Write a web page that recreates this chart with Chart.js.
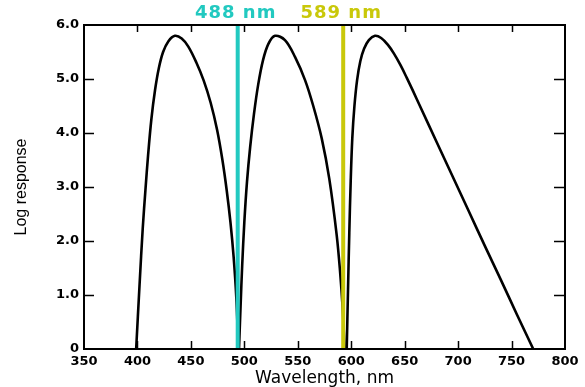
<!DOCTYPE html>
<html>
<head>
<meta charset="utf-8">
<script src="https://cdn.jsdelivr.net/npm/chart.js@4.4.0/dist/chart.umd.min.js"></script>
<style>
  html, body { margin: 0; padding: 0; background: #fff; }
  canvas { display: block; }
</style>
</head>
<body>
<canvas id="responseChart" width="585" height="387"></canvas>
<script>
// wavelength (nm) and log response
const curve1Wl = [398.8, 402, 405, 407.5, 410, 413, 416.5, 420, 424, 429, 435, 441.4, 447.6, 455, 462, 468.5, 474.5, 479.5, 483.5, 487, 490, 492.5, 494.4];
const curve1Log = [0, 1.2, 2.25, 2.95, 3.6, 4.25, 4.8, 5.2, 5.5, 5.7, 5.8, 5.75, 5.6, 5.31, 4.97, 4.56, 4.06, 3.5, 2.94, 2.35, 1.7, 0.95, 0];

const curve2Wl = [495, 496.5, 498, 500, 502.5, 505.5, 509, 513, 517.5, 522.5, 528.7, 538, 547.4, 556.8, 564.5, 572.4, 579.5, 586.4, 589.5, 592, 593.8];
const curve2Log = [0, 0.8, 1.55, 2.35, 3.1, 3.75, 4.35, 4.9, 5.35, 5.65, 5.8, 5.72, 5.41, 4.98, 4.5, 3.9, 3.15, 2.11, 1.45, 0.75, 0];

const curve3Wl = [595.8, 597, 598.2, 599.5, 601, 603, 605.5, 608.5, 612, 616.5, 622.2, 628, 634, 640, 646, 652, 658, 664.3, 680, 695, 710, 725, 740, 755, 770.3];
const curve3Log = [0, 1.1, 2.15, 3.1, 3.9, 4.5, 4.98, 5.33, 5.56, 5.72, 5.8, 5.76, 5.64, 5.47, 5.26, 5.02, 4.77, 4.5, 3.83, 3.19, 2.55, 1.91, 1.28, 0.64, 0];

// laser lines (drawn where they sit in the figure)
const markerWl = [493.8, 592.5];
const markerNames = ['488 nm', '589 nm'];
const markerColors = ['#22c9c0', '#c9c80a'];

const xTicks = [350, 400, 450, 500, 550, 600, 650, 700, 750, 800];
const yTicks = [0, 1, 2, 3, 4, 5, 6];

function toPoints(xs, ys) {
    return xs.map((v, i) => ({ x: v, y: ys[i] }));
}

function curveSet(xs, ys) {
    return {
        data: toPoints(xs, ys),
        borderColor: '#000',
        borderWidth: 2.6,
        pointRadius: 0,
        tension: 0.35,
        fill: false,
        order: 1,
    };
}

const markerSets = markerWl.map((w, i) => ({
    data: [{ x: w, y: 0 }, { x: w, y: 6 }],
    borderColor: markerColors[i],
    borderWidth: 4,
    pointRadius: 0,
    fill: false,
    order: 0,
}));

// frame, inward ticks on all four sides, and the labels above the laser lines
const framePlugin = {
    id: 'frame',
    afterDatasetsDraw(chart) {
        const { ctx, chartArea: a, scales: { x, y } } = chart;
        ctx.save();
        ctx.strokeStyle = '#000';
        ctx.lineWidth = 2;
        ctx.strokeRect(a.left, a.top, a.right - a.left, a.bottom - a.top);

        ctx.lineWidth = 1.5;
        ctx.beginPath();
        xTicks.slice(1, -1).forEach((v) => {
            const px = Math.round(x.getPixelForValue(v)) + 0.5;
            ctx.moveTo(px, a.bottom);
            ctx.lineTo(px, a.bottom - 8);
            ctx.moveTo(px, a.top);
            ctx.lineTo(px, a.top + 7);
        });
        yTicks.slice(1, -1).forEach((v) => {
            const py = Math.round(y.getPixelForValue(v)) + 0.5;
            ctx.moveTo(a.left, py);
            ctx.lineTo(a.left + 10, py);
            ctx.moveTo(a.right, py);
            ctx.lineTo(a.right - 11, py);
        });
        ctx.stroke();

        ctx.font = 'bold 18px "DejaVu Sans"';
        ctx.textAlign = 'center';
        ctx.textBaseline = 'alphabetic';
        if ('letterSpacing' in ctx) ctx.letterSpacing = '1px';
        markerWl.forEach((w, i) => {
            ctx.fillStyle = markerColors[i];
            ctx.fillText(markerNames[i], x.getPixelForValue(w) - 2, 18);
        });
        ctx.restore();
    },
};

const tickFont = { family: 'DejaVu Sans', size: 13, weight: 'bold' };

new Chart(document.getElementById('responseChart'), {
    type: 'line',
    data: {
        datasets: [
            ...markerSets,
            curveSet(curve1Wl, curve1Log),
            curveSet(curve2Wl, curve2Log),
            curveSet(curve3Wl, curve3Log),
        ],
    },
    options: {
        responsive: false,
        devicePixelRatio: 1,
        animation: false,
        layout: { padding: { top: 25, right: 20, left: 0, bottom: 0 } },
        plugins: {
            legend: { display: false },
            tooltip: { enabled: false },
        },
        scales: {
            x: {
                type: 'linear',
                min: 350,
                max: 800,
                afterBuildTicks: (s) => { s.ticks = xTicks.map((v) => ({ value: v })); },
                afterFit: (s) => { s.height = 38; },
                grid: { display: false, drawTicks: false },
                border: { display: false },
                ticks: { color: '#000', font: tickFont, padding: 5, maxRotation: 0 },
                title: {
                    display: true,
                    text: 'Wavelength, nm',
                    color: '#000',
                    font: { family: 'DejaVu Sans', size: 17 },
                    padding: { top: 0, bottom: -2 },
                },
            },
            y: {
                type: 'linear',
                min: 0,
                max: 6,
                afterBuildTicks: (s) => { s.ticks = yTicks.map((v) => ({ value: v })); },
                afterFit: (s) => { s.width = 84; },
                grid: { display: false, drawTicks: false },
                border: { display: false },
                ticks: {
                    color: '#000',
                    font: tickFont,
                    padding: 5,
                    callback: (v) => (v === 0 ? '0' : v.toFixed(1)),
                },
                title: {
                    display: true,
                    text: 'Log response',
                    color: '#000',
                    font: { family: 'Liberation Sans', size: 16 },
                    padding: { top: 12, bottom: 0 },
                },
            },
        },
    },
    plugins: [framePlugin],
});
</script>
</body>
</html>
